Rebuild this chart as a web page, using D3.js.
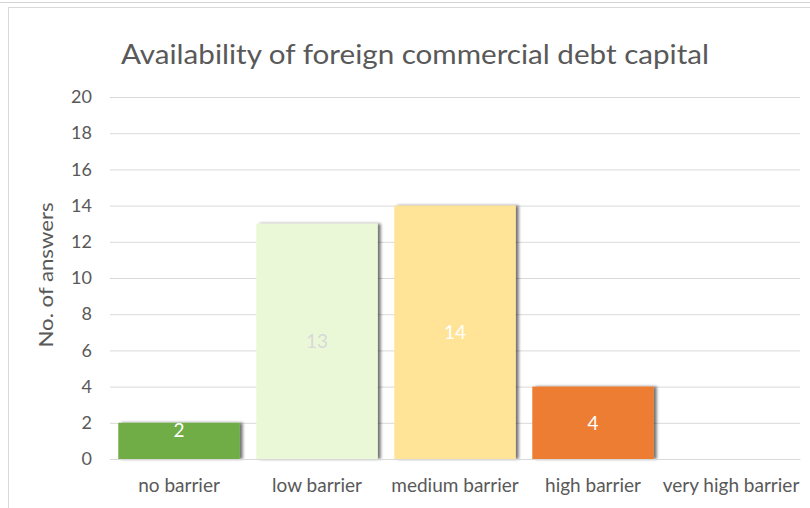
<!DOCTYPE html>
<html>
<head>
<meta charset="utf-8">
<script src="https://cdn.jsdelivr.net/npm/d3@7"></script>
<style>
    body { margin: 0; background: #fff; }
    svg text { font-family: Lato, "Open Sans", sans-serif; fill: #595959; }
</style>
</head>
<body>
<div id="chart"></div>
<script>
const categories = ['no barrier', 'low barrier', 'medium barrier', 'high barrier', 'very high barrier'];
const answers = [2, 13, 14, 4, 0];
const barColors = ['#70ad47', '#ebf8d8', '#ffe497', '#ed7d31', '#5b9bd5'];
const labelColors = ['#ffffff', '#d9d9d9', '#ffffff', '#ffffff', '#ffffff'];
const yTicks = [0, 2, 4, 6, 8, 10, 12, 14, 16, 18, 20];

const width = 810, height = 508;
const margin = {top: 97, right: 10, bottom: 49, left: 110};
const plotW = width - margin.left - margin.right;
const plotH = height - margin.top - margin.bottom;

const svg = d3.select('#chart').append('svg')
    .attr('width', width)
    .attr('height', height);

// drop shadow to the right of the bars
const filter = svg.append('defs').append('filter')
    .attr('id', 'shadow')
    .attr('x', '-10%').attr('y', '-10%')
    .attr('width', '130%').attr('height', '120%');
filter.append('feDropShadow')
    .attr('dx', 3).attr('dy', 0)
    .attr('stdDeviation', 1.6)
    .attr('flood-color', '#000')
    .attr('flood-opacity', 0.55);

// frame of the chart area
svg.append('line')
    .attr('x1', 0).attr('x2', width).attr('y1', 2.5).attr('y2', 2.5)
    .attr('stroke', '#d4d4d4');
svg.append('rect')
    .attr('x', 8.5).attr('y', 7.5)
    .attr('width', width).attr('height', height)
    .attr('fill', 'none')
    .attr('stroke', '#d9d9d9');

svg.append('text')
    .attr('x', 415).attr('y', 64)
    .attr('text-anchor', 'middle')
    .attr('font-size', 27)
    .attr('textLength', 588)
    .attr('lengthAdjust', 'spacingAndGlyphs')
    .text('Availability of foreign commercial debt capital');

const g = svg.append('g')
    .attr('transform', 'translate(' + margin.left + ',' + margin.top + ')');

const x = d3.scaleBand()
    .domain(categories)
    .range([0, plotW])
    .paddingInner(0.12)
    .paddingOuter(0.06);

const y = d3.scaleLinear()
    .domain([0, 20])
    .range([plotH, 0]);

// grid lines + tick labels
g.append('g')
    .call(d3.axisLeft(y).tickValues(yTicks).tickSize(0).tickPadding(18))
    .call(a => a.select('.domain').remove())
    .call(a => a.selectAll('.tick text')
        .attr('font-size', 18)
        .attr('fill', '#595959')
        .style('font-family', 'Lato, sans-serif'))
    .call(a => a.selectAll('.tick line').clone()
        .attr('x2', plotW)
        .attr('stroke', '#d9d9d9')
        .attr('stroke-width', 1));

g.append('text')
    .attr('transform', 'translate(-57,' + (plotH / 2 - 3) + ') rotate(-90)')
    .attr('text-anchor', 'middle')
    .attr('font-size', 19)
    .attr('textLength', 145)
    .attr('lengthAdjust', 'spacingAndGlyphs')
    .text('No. of answers');

const bars = g.selectAll('.bar')
    .data(categories)
    .enter();

bars.append('rect')
    .attr('x', d => x(d))
    .attr('y', (d, i) => y(answers[i]))
    .attr('width', x.bandwidth())
    .attr('height', (d, i) => plotH - y(answers[i]))
    .attr('fill', (d, i) => barColors[i])
    .attr('filter', 'url(#shadow)')
    .style('display', (d, i) => answers[i] > 0 ? null : 'none');

// value labels centred in the bar, short bars get them at the top
bars.append('text')
    .attr('x', d => x(d) + x.bandwidth() / 2)
    .attr('y', (d, i) => {
        const top = y(answers[i]);
        return (plotH - top) < 40 ? top + 14 : (top + plotH) / 2 + 7;
    })
    .attr('text-anchor', 'middle')
    .attr('font-size', 19)
    .style('fill', (d, i) => labelColors[i])
    .style('display', (d, i) => answers[i] > 0 ? null : 'none')
    .text((d, i) => answers[i]);

g.append('g')
    .attr('transform', 'translate(0,' + plotH + ')')
    .call(d3.axisBottom(x).tickSize(0).tickPadding(20))
    .call(a => a.select('.domain').attr('stroke', '#d9d9d9'))
    .call(a => a.selectAll('.tick text')
        .attr('font-size', 19)
        .attr('fill', '#595959')
        .style('font-family', 'Lato, sans-serif'));
</script>
</body>
</html>
